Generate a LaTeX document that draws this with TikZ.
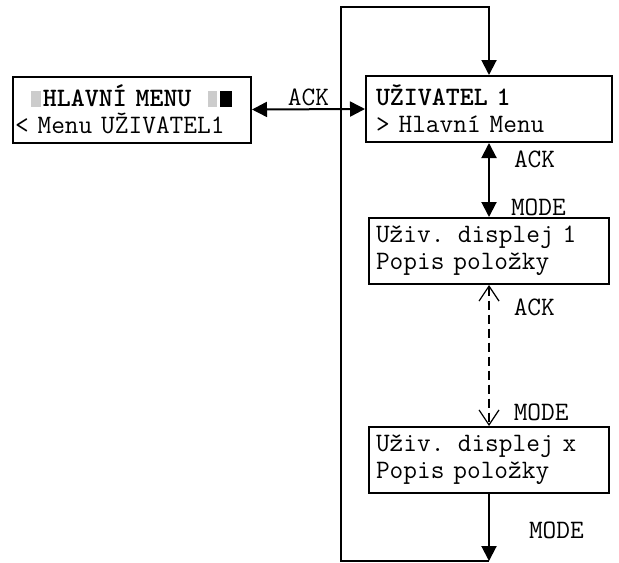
\documentclass[tikz,border=0pt]{standalone}
\usepackage{fontspec}
\usepackage{xcolor}
\usepackage{tikz}
\usetikzlibrary{arrows.meta}
% one cell of the display filled with a block of colour #1, width #2
\newcommand{\lcdblk}[2]{\makebox[0.525em]{\textcolor{#1}{\rule{#2}{0.6em}}}}
\newcommand{\lcdfont}{\ttfamily\fontsize{13.3}{13.5}\selectfont}
\tikzset{
  lcd/.style={rectangle, draw=black, line width=1pt, align=left, inner xsep=3.5pt,
              minimum height=33pt, font=\lcdfont},
  lbl/.style={anchor=west, inner sep=0pt, font=\lcdfont},
  arrowline/.style={-{Triangle[length=7.5pt, width=7.5pt]}, line width=1pt},
  bothline/.style={{Triangle[length=7.5pt, width=7.5pt]}-{Triangle[length=7.5pt, width=7.5pt]}, line width=1pt},
  dasharrow/.style={{Straight Barb[length=7.5pt, width=10pt, line width=0.6pt]}-{Straight Barb[length=7.5pt, width=10pt, line width=0.6pt]},
                    line width=0.75pt, dash pattern=on 4.5pt off 2.5pt},
}

\begin{document}
\begin{tikzpicture}[x=0.5pt, y=-0.5pt]
\useasboundingbox (0,0) rectangle (619,562);

% display screens
\node[lcd, inner xsep=1pt, text width=117pt] (hlavni) at (132,109.5)
  {\hspace*{0.525em}\lcdblk{gray!40}{0.35em}\textbf{HLAVNÍ MENU}\hspace*{0.525em}\lcdblk{gray!40}{0.35em}\lcdblk{black}{0.45em}\\
   < Menu UŽIVATEL1};
\node[lcd, inner xsep=5pt, text width=113pt] (uziv) at (489,109)
  {\textbf{UŽIVATEL 1}\\> Hlavní Menu};
\node[lcd, text width=113pt] (disp1) at (489,251)
  {Uživ. displej 1\\Popis položky};
\node[lcd, text width=113pt] (dispx) at (489,460)
  {Uživ. displej x\\Popis položky};

\coordinate (loopbot) at (489,561);
\coordinate (looptop) at (341,7);

% transitions
\draw[bothline] (hlavni.east) -- (uziv.west) node[midway, above=-2pt, font=\lcdfont] {ACK};
\draw[bothline] (uziv.south) -- (disp1.north)
  node[lbl, pos=0.22, xshift=12pt] {ACK}
  node[lbl, pos=0.87, xshift=10.5pt] {MODE};
\draw[dasharrow] (disp1.south) -- (dispx.north)
  node[lbl, pos=0.16, xshift=12pt] {ACK}
  node[lbl, pos=0.9, xshift=12pt] {MODE};
\draw[arrowline] (dispx.south) -- (loopbot)
  node[lbl, pos=0.54, xshift=19.5pt] {MODE};

% back to the first screen
\draw[arrowline] (loopbot) -| (looptop) -| (uziv.north);
\end{tikzpicture}
\end{document}
